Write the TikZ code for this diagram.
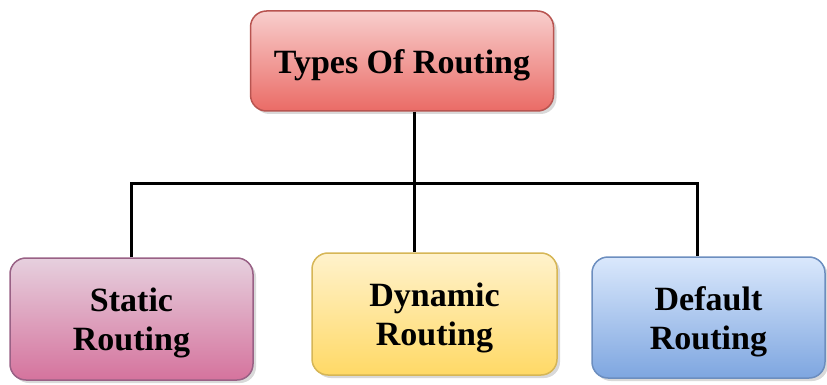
\documentclass[tikz,border=0pt]{standalone}
\usepackage{fontspec}
\setmainfont{Liberation Serif}
\usetikzlibrary{shadows}
\definecolor{redTop}{HTML}{F8CECC}
\definecolor{redBot}{HTML}{EA6B66}
\definecolor{redLine}{HTML}{B85450}
\definecolor{pinkTop}{HTML}{E6D0DE}
\definecolor{pinkBot}{HTML}{D5739D}
\definecolor{pinkLine}{HTML}{996185}
\definecolor{yelTop}{HTML}{FFF2CC}
\definecolor{yelBot}{HTML}{FFD966}
\definecolor{yelLine}{HTML}{D6B656}
\definecolor{bluTop}{HTML}{DAE8FC}
\definecolor{bluBot}{HTML}{7EA6E0}
\definecolor{bluLine}{HTML}{6C8EBF}
\newcommand\myup{\rule{0pt}{32pt}}
\tikzset{
  box/.style={rectangle, rounded corners=16pt, line width=1.5pt, align=center,
    font=\fontsize{34}{39}\selectfont\bfseries, text=black,
    drop shadow={shadow xshift=3pt, shadow yshift=-3pt, opacity=0.3}},
  redbox/.style={box, draw=redLine, top color=redTop, bottom color=redBot},
  pinkbox/.style={box, draw=pinkLine, top color=pinkTop, bottom color=pinkBot},
  yelbox/.style={box, draw=yelLine, top color=yelTop, bottom color=yelBot},
  blubox/.style={box, draw=bluLine, top color=bluTop, bottom color=bluBot},
  conn/.style={line width=3pt, black}
}
\begin{document}
\begin{tikzpicture}[x=1pt,y=-1pt]
\useasboundingbox (0,0) rectangle (827,385);
\node[redbox, minimum width=303pt, minimum height=100pt] (top) at (402,61) {\myup Types Of Routing};
\node[pinkbox, minimum width=243pt, minimum height=122pt] (static) at (131.5,319) {\myup Static\\Routing};
\node[yelbox, minimum width=245pt, minimum height=122pt] (dyn) at (434.5,314) {\myup Dynamic\\Routing};
\node[blubox, minimum width=233pt, minimum height=121pt] (def) at (708.5,317.5) {\myup Default\\Routing};
\coordinate (j) at (414,183);
\coordinate (ls) at (131,183);
\coordinate (rs) at (697,183);
\draw[conn] (top.south -| j) -- (j);
\draw[conn] (static.north -| ls) -- (ls) -- (rs) -- (def.north -| rs);
\draw[conn] (j) -- (dyn.north -| j);
\end{tikzpicture}
\end{document}
